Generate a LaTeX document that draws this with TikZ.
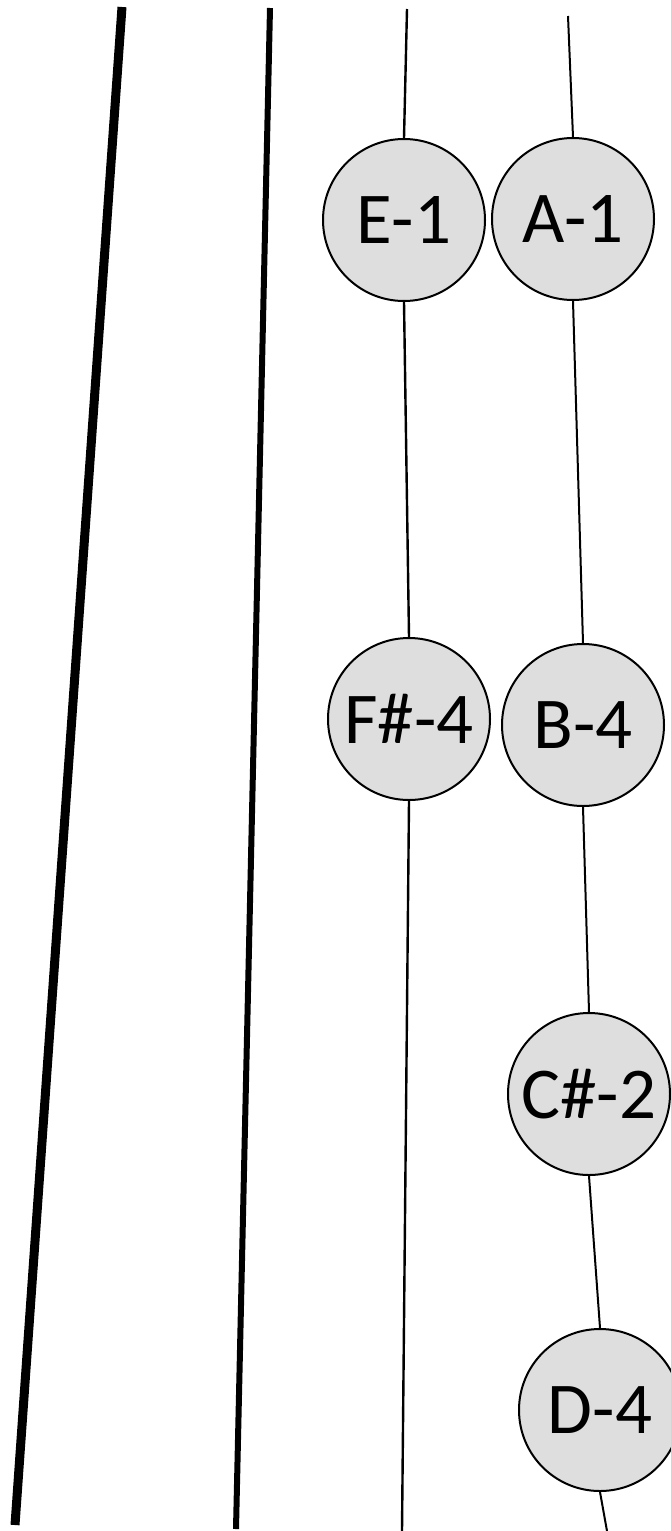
\documentclass[tikz,border=0pt]{standalone}
\usepackage{fontspec}
\setmainfont{Carlito}
\begin{document}
\begin{tikzpicture}[x=1pt,y=-1pt,
  note/.style={circle,draw=black,line width=2pt,fill=black!13,minimum size=162pt,inner sep=0pt,
    font=\fontsize{73}{73}\selectfont},
  str1/.style={line width=9pt},
  str2/.style={line width=6pt},
  str3/.style={line width=2.4pt},
  str4/.style={line width=2pt}]
\useasboundingbox (0,0) rectangle (670,1531);
% fixed end points of the strings
\coordinate (s1t) at (122,7);
\coordinate (s1b) at (15,1525);
\coordinate (s2t) at (270,8);
\coordinate (s2b) at (236,1529);
\coordinate (s3t) at (407,9);
\coordinate (s3b) at (402,1531);
\coordinate (s4t) at (568,16);
\coordinate (s4b) at (607,1531);
% notes
\node[note] (e1) at (404,220) {E-1};
\node[note] (a1) at (573,219) {A-1};
\node[note] (f4) at (409,719) {F\#-4};
\node[note] (b4) at (583,725) {B-4};
\node[note] (c2) at (589,1094) {C\#-2};
\node[note] (d4) at (600,1410) {D-4};
% strings
\draw[str1] (s1t) -- (s1b);
\draw[str2] (s2t) -- (s2b);
\draw[str3] (s3t) -- (e1.north);
\draw[str3] (e1.south) -- (f4.north);
\draw[str3] (f4.south) -- (s3b);
\draw[str4] (s4t) -- (a1.north);
\draw[str4] (a1.south) -- (b4.north);
\draw[str4] (b4.south) -- (c2.north);
\draw[str4] (c2.south) -- (d4.north);
\draw[str4] (d4.south) -- (s4b);
\end{tikzpicture}
\end{document}
